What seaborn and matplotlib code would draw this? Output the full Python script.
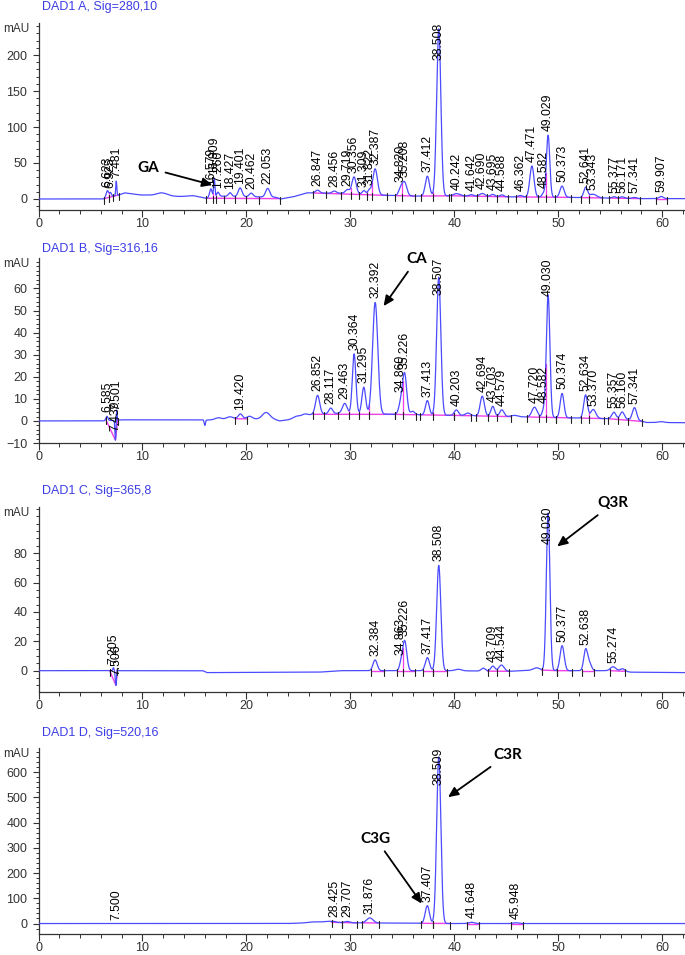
import numpy as np
import pandas as pd
import matplotlib
matplotlib.use("Agg")
import matplotlib.pyplot as plt
import matplotlib.transforms as mtransforms
from matplotlib.ticker import MultipleLocator, FixedLocator
import seaborn as sns

# ---------------- Panel A : DAD1 A, Sig=280,10 ----------------
A_TITLE = "DAD1 A, Sig=280,10"
A_PEAK_RT = [6.623, 6.925, 7.481, 12.0, 14.8, 16.579, 16.909, 17.260, 18.427, 19.401, 20.462, 22.053,
             26.847, 28.456, 29.719, 30.356, 31.309, 31.822, 32.387, 34.820, 35.208, 37.412, 38.508,
             40.242, 41.642, 42.690, 43.695, 44.588, 46.362, 47.471, 48.582, 49.029, 50.373, 52.641,
             53.343, 55.377, 56.171, 57.341, 59.907]
A_PEAK_H = [10, 6, 20, 2.5, 2, 12, 26, 6, 5, 12, 5, 12,
            4, 3, 5, 23, 5, 6, 36, 9, 19, 27.5, 232,
            3, 2, 4, 3, 2.5, 2, 43, 5, 86, 15.5, 14,
            5, 2, 2, 1.5, 3]
A_PEAK_W = [0.12, 0.1, 0.05, 0.5, 0.5, 0.12, 0.06, 0.12, 0.15, 0.18, 0.18, 0.2,
            0.2, 0.2, 0.2, 0.2, 0.15, 0.15, 0.22, 0.18, 0.22, 0.2, 0.2,
            0.3, 0.2, 0.25, 0.2, 0.2, 0.2, 0.2, 0.15, 0.16, 0.2, 0.18,
            0.35, 0.2, 0.2, 0.2, 0.2]
A_BG_X = [0, 6.2, 7.8, 8.3, 9.8, 11.0, 11.7, 12.7, 14.3, 15.6, 16.1, 17.5, 21.0, 22.8, 23.3, 24.5,
          25.8, 28, 30, 31, 33.5, 36.5, 40, 45, 50, 54, 56, 58, 62.2]
A_BG_Y = [0, 0, 6, 8.5, 5.5, 5.5, 6.5, 4, 3, 2, 1, 4, 3, 2.5, 0, 3,
          8.5, 8, 8, 7, 5, 4, 4.5, 3, 2.5, 1.5, 1, 0.5, 0.5]
A_LABELS = ["6.623", "6.925", "7.481", "16.579", "16.909", "17.260", "18.427", "19.401", "20.462",
            "22.053", "26.847", "28.456", "29.719", "30.356", "31.309", "31.822", "32.387", "34.820",
            "35.208", "37.412", "38.508", "40.242", "41.642", "42.690", "43.695", "44.588", "46.362",
            "47.471", "48.582", "49.029", "50.373", "52.641", "53.343", "55.377", "56.171", "57.341",
            "59.907"]
A_SEGMENTS = [(6.3, 7.75), (16.1, 23.2), (26.4, 33.5), (34.3, 36.2), (36.8, 39.5), (39.7, 45.2),
              (45.9, 51.2), (52.2, 54.2), (54.9, 57.9), (59.4, 60.5)]
A_DIP = []
A_YTICKS = [0, 50, 100, 150, 200]
A_YMINOR = 10
A_YLIM = (-15.3, 244.9)
A_NOTES = [("GA", 10.6, 43.0, 16.73, 19.4)]

# ---------------- Panel B : DAD1 B, Sig=316,16 ----------------
B_TITLE = "DAD1 B, Sig=316,16"
B_PEAK_RT = [6.585, 7.40, 7.52, 16.0, 17.3, 18.4, 19.420, 20.3, 21.9, 24.8, 25.6,
             26.852, 28.117, 29.463, 30.364, 31.295, 32.392, 34.860, 35.226, 36.0, 37.413, 38.507,
             40.203, 41.3, 42.694, 43.703, 44.579, 45.8, 47.720, 48.582, 49.030, 50.374, 52.634,
             53.370, 55.357, 56.160, 57.341, 59.9]
B_PEAK_H = [2, -9, 5, -2.5, 0.8, 1.0, 2.2, 1.2, 3, 0.8, 1.0,
            8.5, 2.5, 4.5, 27, 12, 50.5, 5, 18, 1.5, 6.5, 62.5,
            2.5, 1.2, 9, 4.5, 3, 0.6, 4.5, 3, 55.5, 11, 10.5,
            4, 3, 3.3, 5.5, 0.4]
B_PEAK_W = [0.1, 0.05, 0.03, 0.06, 0.3, 0.3, 0.2, 0.25, 0.35, 0.3, 0.3,
            0.2, 0.18, 0.22, 0.17, 0.18, 0.25, 0.2, 0.2, 0.2, 0.18, 0.2,
            0.2, 0.25, 0.2, 0.18, 0.2, 0.3, 0.25, 0.15, 0.17, 0.18, 0.18,
            0.25, 0.2, 0.2, 0.2, 0.3]
B_BG_X = [0, 6.3, 8, 15.8, 16.3, 19, 22.6, 23.2, 24, 26, 26.4, 29, 34, 40, 45, 50, 55, 57.5, 58.5, 62.2]
B_BG_Y = [0, 0, 0.5, 0.5, 0.4, 1, 0.8, 0, 0.5, 2.5, 3, 3.5, 3, 2.5, 2, 1.5, 1, 0.5, -0.7, -0.8]
B_LABELS = ["6.585", "7.439", "7.501", "19.420", "26.852", "28.117", "29.463", "30.364", "31.295",
            "32.392", "34.860", "35.226", "37.413", "38.507", "40.203", "42.694", "43.703", "44.579",
            "47.720", "48.582", "49.030", "50.374", "52.634", "53.370", "55.357", "56.160", "57.341"]
B_SEGMENTS = [(18.9, 20.1), (26.4, 34.3), (34.3, 36.3), (36.7, 40.0), (40.0, 41.6), (42.1, 45.5),
              (47.0, 49.8), (49.8, 51.2), (52.2, 54.4), (54.8, 58.1)]
B_DIP = [6.45, 7.40, 7.62]
B_YTICKS = [-10, 0, 10, 20, 30, 40, 50, 60]
B_YMINOR = 2
B_YLIM = (-10, 73.8)
B_NOTES = [("CA", 36.4, 73.3, 33.2, 52.0)]

# ---------------- Panel C : DAD1 C, Sig=365,8 ----------------
C_TITLE = "DAD1 C, Sig=365,8"
C_PEAK_RT = [7.205, 7.45, 7.56, 32.384, 34.863, 35.226, 37.417, 38.508, 40.4, 42.8, 43.709, 44.544,
             47.9, 49.030, 50.377, 52.638, 53.0, 55.274, 56.2]
C_PEAK_H = [2, -10, 2, 7.3, 4, 20.4, 8.9, 71.7, 1, 2, 3.5, 4.3,
            1.5, 107, 17, 14, 5, 2.7, 1.5]
C_PEAK_W = [0.06, 0.06, 0.04, 0.2, 0.15, 0.2, 0.2, 0.2, 0.3, 0.2, 0.2, 0.25,
            0.3, 0.17, 0.2, 0.18, 0.2, 0.25, 0.2]
C_BG_X = [0, 6.5, 8, 15.8, 16.2, 27, 29, 31, 34, 40, 45, 48, 50, 56, 57, 62.2]
C_BG_Y = [0, 0, 0, 0, -1.3, -1, 0, 0, 0, 0, -0.5, 0.5, 0, 0, -1, -1.3]
C_LABELS = ["7.205", "7.506", "32.384", "34.863", "35.226", "37.417", "38.508", "43.709", "44.544",
            "49.030", "50.377", "52.638", "55.274"]
C_SEGMENTS = [(32.0, 33.2), (34.5, 36.2), (37.0, 38.0), (38.0, 39.3), (43.2, 45.3), (48.4, 49.9),
              (49.9, 51.3), (52.3, 53.4), (55.0, 56.4)]
C_DIP = [6.85, 7.45, 7.6]
C_YTICKS = [0, 20, 40, 60, 80]
C_YMINOR = 5
C_YLIM = (-14.3, 111.6)
C_NOTES = [("Q3R", 55.3, 114.0, 49.9, 84.6)]

# ---------------- Panel D : DAD1 D, Sig=520,16 ----------------
D_TITLE = "DAD1 D, Sig=520,16"
D_PEAK_RT = [26.5, 27.8, 28.425, 29.707, 31.876, 37.407, 38.509, 41.648, 45.948]
D_PEAK_H = [3, 4, 3, 5, 20, 70, 660, 5, 3]
D_PEAK_W = [0.5, 0.4, 0.2, 0.25, 0.3, 0.2, 0.2, 0.25, 0.25]
D_BG_X = [0, 24, 26, 28, 30, 40, 62.2]
D_BG_Y = [0, 0, 3, 5, 3, 0, 0]
D_LABELS = ["7.500", "28.425", "29.707", "31.876", "37.407", "38.509", "41.648", "45.948"]
D_SEGMENTS = [(28.2, 29.2), (29.2, 30.6), (31.1, 32.8), (36.8, 38.0), (38.0, 39.6), (41.2, 42.4),
              (45.5, 46.6)]
D_DIP = []
D_YTICKS = [0, 100, 200, 300, 400, 500, 600]
D_YMINOR = 20
D_YLIM = (-39.5, 695.7)
D_NOTES = [("C3R", 45.1, 668.0, 39.4, 500.8), ("C3G", 32.45, 336.0, 36.87, 79.0)]

X_MAX = 62.2
X_MAJOR = 10
X_MINOR = 2

# ---------------- style ----------------
sns.set_theme(style="ticks")
plt.rcParams["font.family"] = ["Liberation Sans", "DejaVu Sans"]
TRACE_C = "#4b4bff"
TITLE_C = "#3d3de6"
PINK = "#f03fe8"
AXC = "#333333"

W, H = 685, 955
fig = plt.figure(figsize=(W / 100, H / 100), dpi=100)

# axes rectangles in pixels: (top_px, bottom_px)
RECTS = [(22.7, 210.0), (258.0, 443.0), (506.7, 691.7), (748.0, 933.5)]
TITLE_Y = [7, 249, 491, 733]
LEFT_PX = 38.5

T = np.linspace(0, X_MAX, 12441)

panels = [
    (A_TITLE, A_PEAK_RT, A_PEAK_H, A_PEAK_W, A_BG_X, A_BG_Y, A_LABELS, A_SEGMENTS, A_DIP, A_YTICKS, A_YMINOR, A_YLIM, A_NOTES),
    (B_TITLE, B_PEAK_RT, B_PEAK_H, B_PEAK_W, B_BG_X, B_BG_Y, B_LABELS, B_SEGMENTS, B_DIP, B_YTICKS, B_YMINOR, B_YLIM, B_NOTES),
    (C_TITLE, C_PEAK_RT, C_PEAK_H, C_PEAK_W, C_BG_X, C_BG_Y, C_LABELS, C_SEGMENTS, C_DIP, C_YTICKS, C_YMINOR, C_YLIM, C_NOTES),
    (D_TITLE, D_PEAK_RT, D_PEAK_H, D_PEAK_W, D_BG_X, D_BG_Y, D_LABELS, D_SEGMENTS, D_DIP, D_YTICKS, D_YMINOR, D_YLIM, D_NOTES),
]

all_labels = []
for i, (title, rt, hh, ww, bgx, bgy, labels, segs, dip, yt, ymin_step, ylim, notes) in enumerate(panels):
    top_px, bot_px = RECTS[i]
    ax = fig.add_axes([LEFT_PX / W, (H - bot_px) / H, 1 - LEFT_PX / W, (bot_px - top_px) / H])
    ppu = (bot_px - top_px) / (ylim[1] - ylim[0])

    bg = np.interp(T, bgx, bgy)
    trace = bg.copy()
    for r, h_, w_ in zip(rt, hh, ww):
        trace = trace + h_ * np.exp(-0.5 * ((T - r) / w_) ** 2)
    df = pd.DataFrame({"time": T, "signal": trace})

    # integration baselines (pink) and boundary tick marks
    lab_x = sorted(float(s) for s in labels)
    for (x0, x1) in segs:
        y0, y1 = np.interp(x0, bgx, bgy), np.interp(x1, bgx, bgy)
        ax.plot([x0, x1], [y0, y1], color=PINK, lw=1.0, zorder=2)
        inside = [x for x in lab_x if x0 < x < x1]
        splits = [(a + b) / 2 for a, b in zip(inside[:-1], inside[1:])]
        for xs in splits:
            yb = y0 + (y1 - y0) * (xs - x0) / (x1 - x0)
            yt_ = np.interp(xs, T, trace)
            ax.plot([xs, xs], [yb, yt_], color=PINK, lw=0.9, zorder=2)
        for xs in [x0, x1] + splits:
            yb = y0 + (y1 - y0) * (xs - x0) / (x1 - x0)
            ax.plot([xs, xs], [yb - 5 / ppu, yb + 2 / ppu], color="#222222", lw=0.8, zorder=4)
    if dip:
        ax.plot(dip, np.interp(dip, T, trace), color=PINK, lw=1.0, zorder=2)
        for xs in (dip[0], dip[-1]):
            yb = np.interp(xs, T, trace)
            ax.plot([xs, xs], [yb - 5 / ppu, yb + 2 / ppu], color="#222222", lw=0.8, zorder=4)

    sns.lineplot(data=df, x="time", y="signal", ax=ax, color=TRACE_C, lw=0.9,
                 estimator=None, sort=False, zorder=3)

    ax.set_xlim(0, X_MAX)
    ax.set_ylim(*ylim)
    ax.set_xlabel("")
    ax.set_ylabel("")
    ax.xaxis.set_major_locator(MultipleLocator(X_MAJOR))
    ax.xaxis.set_minor_locator(MultipleLocator(X_MINOR))
    ax.yaxis.set_major_locator(FixedLocator(yt))
    ax.yaxis.set_minor_locator(MultipleLocator(ymin_step))
    for sp in ("top", "right"):
        ax.spines[sp].set_visible(False)
    for sp in ("left", "bottom"):
        ax.spines[sp].set_color(AXC)
        ax.spines[sp].set_linewidth(0.9)
    ax.tick_params(axis="x", which="major", length=5, width=0.8, direction="out", colors=AXC,
                   labelsize=9, pad=1.0)
    ax.tick_params(axis="x", which="minor", length=3, width=0.7, direction="out", colors=AXC)
    ax.tick_params(axis="y", which="major", length=4, width=0.8, direction="out", colors=AXC,
                   labelsize=9, pad=4)
    ax.tick_params(axis="y", which="minor", length=2.5, width=0.7, direction="out", colors=AXC)
    ax.set_facecolor("white")

    # titles and unit label
    fig.text(42 / W, 1 - TITLE_Y[i] / H, title, color=TITLE_C, fontsize=9,
             ha="left", va="center")
    fig.text(29 / W, 1 - (top_px + 6) / H, "mAU", color=AXC, fontsize=8.5,
             ha="right", va="center")

    # peak retention-time labels
    off = mtransforms.offset_copy(ax.transData, fig=fig, x=0, y=4, units="dots")
    for s in labels:
        x = float(s)
        yv = float(np.interp(x, T, trace))
        t = ax.text(x, yv, s, rotation=90, ha="center", va="bottom", fontsize=8.8,
                    color="black", transform=off, clip_on=False, zorder=5)
        all_labels.append((ax, t, ppu, top_px))

    # annotations with arrows
    for (txt, tx, ty, px, py) in notes:
        ax.annotate(txt, xy=(px, py), xytext=(tx, ty), xycoords="data", textcoords="data",
                    ha="center", va="center", fontsize=11, fontweight="bold",
                    family=["Lato", "DejaVu Sans"], color="black", annotation_clip=False,
                    arrowprops=dict(arrowstyle="-|>,head_length=0.55,head_width=0.25",
                                    color="black", lw=1.3, shrinkA=2, shrinkB=0))

# keep labels inside each plot area (clamp at the top, as the instrument software does)
fig.canvas.draw()
renderer = fig.canvas.get_renderer()
for ax, t, ppu, top_px in all_labels:
    bb = t.get_window_extent(renderer)
    top_disp = H - top_px
    if bb.y1 > top_disp:
        x, y = t.get_position()
        t.set_position((x, y - (bb.y1 - top_disp) / ppu))

fig.savefig("out.png", dpi=100, facecolor="white")
